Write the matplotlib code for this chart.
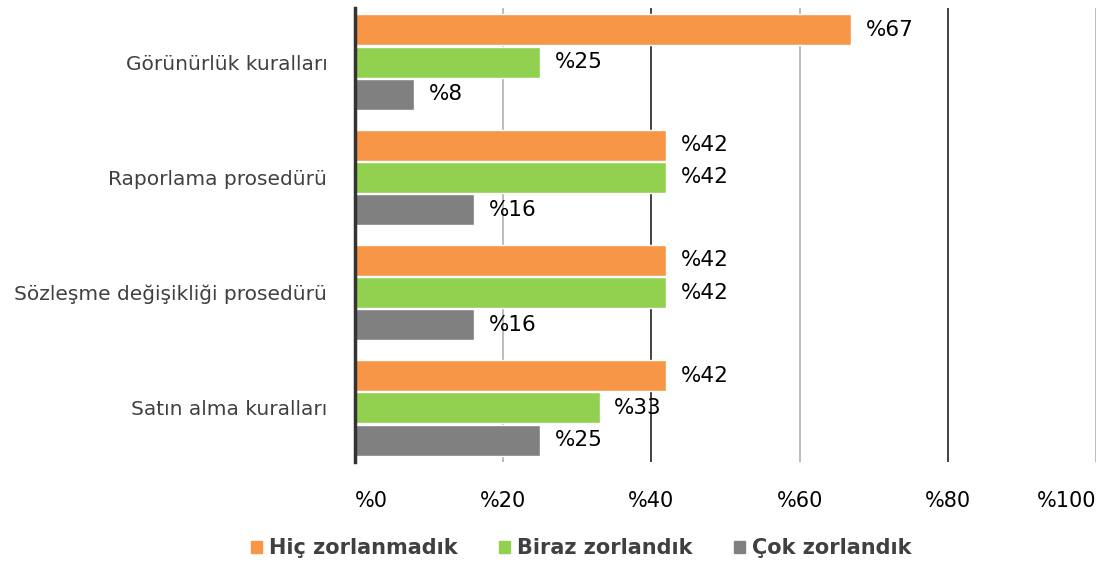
import numpy as np
import matplotlib
matplotlib.use("Agg")
import matplotlib.pyplot as plt
from matplotlib.patches import Patch

# Data
categories = ["Görünürlük kuralları", "Raporlama prosedürü",
              "Sözleşme değişikliği prosedürü", "Satın alma kuralları"]
series_names = ["Hiç zorlanmadık", "Biraz zorlandık", "Çok zorlandık"]
hic = [67, 42, 42, 42]
biraz = [25, 42, 42, 33]
cok = [8, 16, 16, 25]
xticks = [0, 20, 40, 60, 80, 100]
xtick_labels = ["%0", "%20", "%40", "%60", "%80", "%100"]

colours = ["#F79646", "#92D050", "#808080"]

plt.rcParams['font.family'] = ['DejaVu Sans']

fig = plt.figure(figsize=(11.13, 5.67), dpi=100)
ax = fig.add_axes([0.319, 0.185, 0.6657, 0.801])

y = np.arange(len(categories))
h = 0.27
offsets = [-0.28, 0, 0.28]

# Gridlines (alternate shades, as in reference)
for t in xticks[1:]:
    c = "#222222" if t in (40, 80) else "#B0B0B0"
    ax.axvline(t, color=c, lw=1.2, zorder=0)

for vals, off, col in zip([hic, biraz, cok], offsets, colours):
    ax.barh(y + off, vals, height=h, color=col, edgecolor="white",
            linewidth=1.0, zorder=2)
    for v, yy in zip(vals, y + off):
        ax.text(v + 2.0, yy, "%%%d" % v, va="center", ha="left",
                fontsize=15.5, color="black", zorder=3)

ax.set_ylim(3.47, -0.47)
ax.set_xlim(0, 100)
ax.set_yticks(y)
ax.set_yticklabels(categories, fontsize=14.5, color="#404040")
ax.set_xticks(xticks)
ax.set_xticklabels(xtick_labels, fontsize=15, color="black")
labels = ax.get_xticklabels()
labels[0].set_ha("left")
labels[-1].set_ha("right")
ax.tick_params(axis="y", length=0, pad=20)
ax.tick_params(axis="x", length=0, pad=21)

for s in ["top", "right", "bottom"]:
    ax.spines[s].set_visible(False)
ax.spines["left"].set_color("#333333")
ax.spines["left"].set_linewidth(2.5)

handles = [Patch(facecolor=c, edgecolor=c) for c in colours]
leg = fig.legend(handles, series_names, loc="center", bbox_to_anchor=(0.522, 0.033),
                 ncol=3, frameon=False, handlelength=0.55, handleheight=0.55,
                 handletextpad=0.3, columnspacing=2.0,
                 prop={"weight": "bold", "size": 15})
for t in leg.get_texts():
    t.set_color("#404040")

plt.savefig("out.png", dpi=100)
